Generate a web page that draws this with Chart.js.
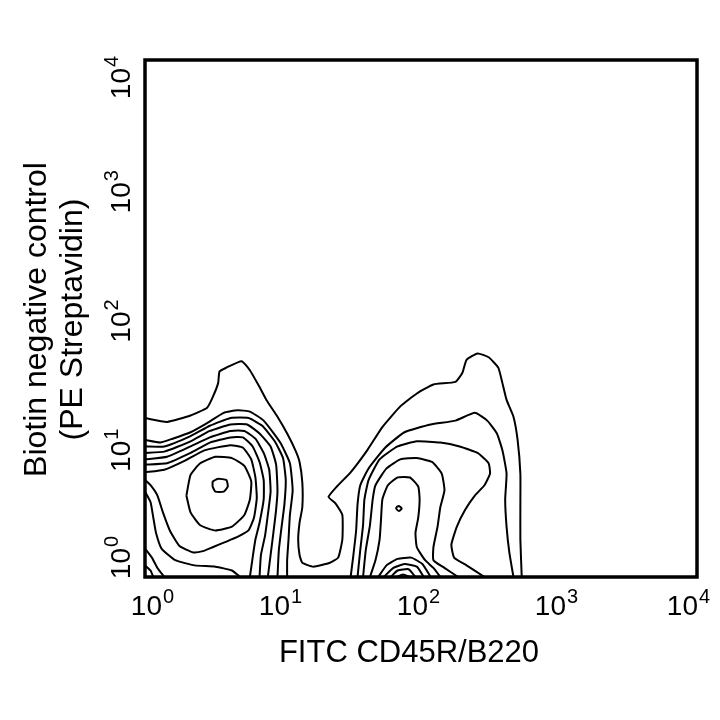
<!DOCTYPE html>
<html>
<head>
<meta charset="utf-8">
<script src="https://cdn.jsdelivr.net/npm/chart.js@4.4.1/dist/chart.umd.min.js"></script>
<style>
  html, body { margin: 0; padding: 0; background: #fff; }
  #wrap { width: 720px; height: 720px; }
</style>
</head>
<body>
<div id="wrap"><canvas id="myChart" width="720" height="720"></canvas></div>
<script>
// both axes are in log decades : 0 = 10^0 ... 4 = 10^4
const decades = [0, 1, 2, 3, 4];
const xTitle = "FITC CD45R/B220";
const yTitle = ["Biotin negative control", "(PE Streptavidin)"];

// contour lines, each point = [FITC decade, PE decade]
// outer level, joins both populations
const outerLine = [[0.00,1.23],[0.16,1.20],[0.33,1.25],[0.45,1.31],[0.49,1.39],[0.53,1.50],[0.54,1.59],[0.59,1.62],[0.70,1.67],[0.76,1.60],[0.83,1.47],[0.88,1.37],[0.96,1.24],[1.03,1.11],[1.09,0.98],[1.12,0.89],[1.14,0.73],[1.14,0.54],[1.12,0.42],[1.11,0.29],[1.12,0.17],[1.14,0.11],[1.22,0.08],[1.34,0.11],[1.40,0.15],[1.43,0.29],[1.43,0.48],[1.38,0.57],[1.33,0.62],[1.39,0.70],[1.49,0.81],[1.61,0.98],[1.72,1.16],[1.85,1.32],[1.97,1.42],[2.09,1.49],[2.25,1.51],[2.30,1.58],[2.33,1.68],[2.41,1.73],[2.49,1.70],[2.56,1.62],[2.59,1.50],[2.62,1.37],[2.67,1.24],[2.70,1.06],[2.72,0.80],[2.72,0.54],[2.72,0.29],[2.73,0.00]];

// B220 negative population (left)
const left2 = [[0.00,1.06],[0.11,1.04],[0.20,1.07],[0.33,1.12],[0.45,1.19],[0.57,1.27],[0.67,1.29],[0.76,1.28],[0.86,1.21],[0.98,1.04],[1.05,0.88],[1.07,0.67],[1.05,0.48],[1.04,0.29],[1.03,0.13],[1.03,0.00]];
const left3 = [[0.00,1.01],[0.14,1.01],[0.33,1.09],[0.47,1.17],[0.62,1.23],[0.75,1.23],[0.85,1.17],[0.94,1.05],[1.00,0.92],[1.02,0.75],[1.01,0.56],[0.99,0.39],[0.97,0.21],[0.96,0.00]];
const left4 = [[0.00,0.96],[0.14,0.97],[0.33,1.05],[0.47,1.13],[0.62,1.18],[0.74,1.18],[0.83,1.11],[0.91,1.01],[0.95,0.87],[0.96,0.67],[0.95,0.52],[0.93,0.34],[0.91,0.17],[0.89,0.00]];
const left5 = [[0.00,0.91],[0.16,0.93],[0.33,1.01],[0.47,1.08],[0.62,1.13],[0.72,1.13],[0.80,1.07],[0.86,0.96],[0.90,0.83],[0.91,0.66],[0.89,0.48],[0.87,0.32],[0.84,0.17],[0.83,0.00]];
const left6 = [[0.00,0.87],[0.16,0.88],[0.33,0.96],[0.47,1.04],[0.62,1.08],[0.71,1.08],[0.78,1.01],[0.83,0.89],[0.86,0.75],[0.86,0.60],[0.83,0.42],[0.80,0.29],[0.78,0.15],[0.76,0.00]];
const leftRing = [[0.00,0.81],[0.14,0.83],[0.29,0.90],[0.43,0.98],[0.62,1.02],[0.71,1.00],[0.77,0.91],[0.80,0.77],[0.81,0.61],[0.79,0.46],[0.75,0.36],[0.67,0.31],[0.58,0.27],[0.49,0.23],[0.42,0.20],[0.35,0.19],[0.25,0.24],[0.18,0.36],[0.13,0.50],[0.09,0.63],[0.04,0.71],[0.00,0.75]];
const leftOval = [[0.30,0.63],[0.33,0.79],[0.40,0.88],[0.51,0.93],[0.63,0.92],[0.72,0.86],[0.77,0.74],[0.76,0.60],[0.72,0.48],[0.63,0.39],[0.51,0.36],[0.40,0.40],[0.33,0.50],[0.30,0.63]];
const leftPeak = [[0.49,0.74],[0.53,0.76],[0.59,0.75],[0.60,0.70],[0.57,0.66],[0.51,0.66],[0.49,0.70],[0.49,0.74]];
const cornerA = [[0.00,0.66],[0.04,0.58],[0.06,0.46],[0.08,0.34],[0.12,0.22],[0.22,0.13],[0.36,0.09],[0.51,0.08],[0.63,0.05],[0.69,0.00]];
const cornerB = [[0.00,0.22],[0.05,0.15],[0.09,0.07],[0.14,0.00]];
const cornerC = [[0.00,0.09],[0.04,0.05],[0.06,0.00]];

// B220 positive population (right)
const right2 = [[1.49,0.00],[1.51,0.17],[1.53,0.36],[1.54,0.56],[1.56,0.71],[1.62,0.84],[1.74,1.00],[1.88,1.12],[2.07,1.18],[2.25,1.21],[2.39,1.27],[2.48,1.21],[2.55,1.11],[2.59,0.98],[2.62,0.80],[2.61,0.60],[2.62,0.39],[2.64,0.19],[2.67,0.00]];
const right3 = [[1.54,0.00],[1.56,0.21],[1.58,0.40],[1.59,0.60],[1.62,0.75],[1.70,0.91],[1.83,1.01],[1.97,1.05],[2.14,1.04],[2.28,1.01],[2.41,0.96],[2.49,0.88],[2.50,0.80],[2.46,0.71],[2.39,0.63],[2.32,0.52],[2.26,0.39],[2.22,0.25],[2.24,0.15],[2.33,0.09],[2.46,0.00]];
const right4 = [[1.58,0.00],[1.60,0.21],[1.63,0.40],[1.65,0.60],[1.67,0.71],[1.75,0.84],[1.85,0.91],[1.97,0.92],[2.08,0.89],[2.15,0.80],[2.17,0.67],[2.14,0.54],[2.12,0.39],[2.09,0.23],[2.09,0.13],[2.17,0.07],[2.27,0.00]];
const right5 = [[1.63,0.00],[1.67,0.13],[1.70,0.29],[1.71,0.44],[1.72,0.60],[1.76,0.71],[1.83,0.77],[1.92,0.77],[1.98,0.70],[1.99,0.60],[1.98,0.46],[1.96,0.34],[1.97,0.23],[2.03,0.13],[2.09,0.07],[2.14,0.00]];
const bump1 = [[1.69,0.00],[1.75,0.09],[1.83,0.14],[1.93,0.15],[2.01,0.10],[2.07,0.00]];
const bump2 = [[1.73,0.00],[1.80,0.07],[1.88,0.10],[1.97,0.08],[2.02,0.00]];
const bump3 = [[1.78,0.00],[1.83,0.05],[1.91,0.06],[1.96,0.00]];
const bump4 = [[1.82,0.00],[1.87,0.02],[1.92,0.00]];
const rightPeak = [[1.82,0.54],[1.84,0.55],[1.86,0.53],[1.84,0.51],[1.82,0.53],[1.82,0.54]];

const contours = [outerLine, left2, left3, left4, left5, left6, leftRing, leftOval, leftPeak,
  cornerA, cornerB, cornerC, right2, right3, right4, right5, bump1, bump2, bump3, bump4, rightPeak];

const FONT = '"Liberation Sans", Arial, Helvetica, sans-serif';

// "10" with the decade as exponent, centred on (0,0) of the current transform
function drawPower(ctx, exp) {
  ctx.font = '28px ' + FONT;
  const wBase = ctx.measureText('10').width;
  ctx.font = '20px ' + FONT;
  const wExp = ctx.measureText(String(exp)).width;
  const start = -(wBase + wExp) / 2;
  ctx.textAlign = 'left';
  ctx.textBaseline = 'alphabetic';
  ctx.font = '28px ' + FONT;
  ctx.fillText('10', start, 0);
  ctx.font = '20px ' + FONT;
  ctx.fillText(String(exp), start + wBase + 1, -12);
}

const frameAndLabels = {
  id: 'frameAndLabels',
  afterDraw(chart) {
    const ctx = chart.ctx;
    const a = chart.chartArea;
    const xs = chart.scales.x, ys = chart.scales.y;
    ctx.save();
    // box round the plot
    ctx.strokeStyle = '#000';
    ctx.lineWidth = 3.5;
    ctx.strokeRect(a.left, a.top, a.right - a.left, a.bottom - a.top);

    ctx.fillStyle = '#000';
    // x tick labels, kept inside the box ends
    decades.forEach(d => {
      let cx = xs.getPixelForValue(d) - 3;
      cx = Math.max(a.left + 7, Math.min(a.right - 9, cx));
      ctx.save();
      ctx.translate(cx, a.bottom + 38);
      drawPower(ctx, d);
      ctx.restore();
    });
    // y tick labels, turned
    decades.forEach(d => {
      let cy = ys.getPixelForValue(d) + 3;
      cy = Math.max(a.top + 18, Math.min(a.bottom - 19, cy));
      ctx.save();
      ctx.translate(a.left - 15, cy);
      ctx.rotate(-Math.PI / 2);
      drawPower(ctx, d);
      ctx.restore();
    });

    // axis titles
    ctx.textAlign = 'center';
    ctx.textBaseline = 'alphabetic';
    ctx.font = '31px ' + FONT;
    ctx.fillText(xTitle, (a.left + a.right) / 2 - 12, a.bottom + 85);

    ctx.font = '32px ' + FONT;
    ctx.save();
    ctx.translate(46, (a.top + a.bottom) / 2 + 1);
    ctx.rotate(-Math.PI / 2);
    ctx.fillText(yTitle[0], 0, 0);
    ctx.fillText(yTitle[1], 0, 36);
    ctx.restore();
    ctx.restore();
  }
};

const config = {
  type: 'scatter',
  data: {
    datasets: contours.map(c => ({
      data: c.map(p => ({ x: p[0], y: p[1] })),
      showLine: true,
      borderColor: '#000',
      borderWidth: 2,
      pointRadius: 0,
      fill: false,
      tension: 0.15
    }))
  },
  options: {
    responsive: false,
    animation: false,
    layout: { padding: { left: 145, right: 23, top: 60, bottom: 143 } },
    scales: {
      x: { type: 'linear', min: 0, max: 4, display: false },
      y: { type: 'linear', min: 0, max: 4, display: false }
    },
    plugins: { legend: { display: false }, tooltip: { enabled: false } }
  },
  plugins: [frameAndLabels]
};

var myChart = new Chart(document.getElementById('myChart'), config);
</script>
</body>
</html>
